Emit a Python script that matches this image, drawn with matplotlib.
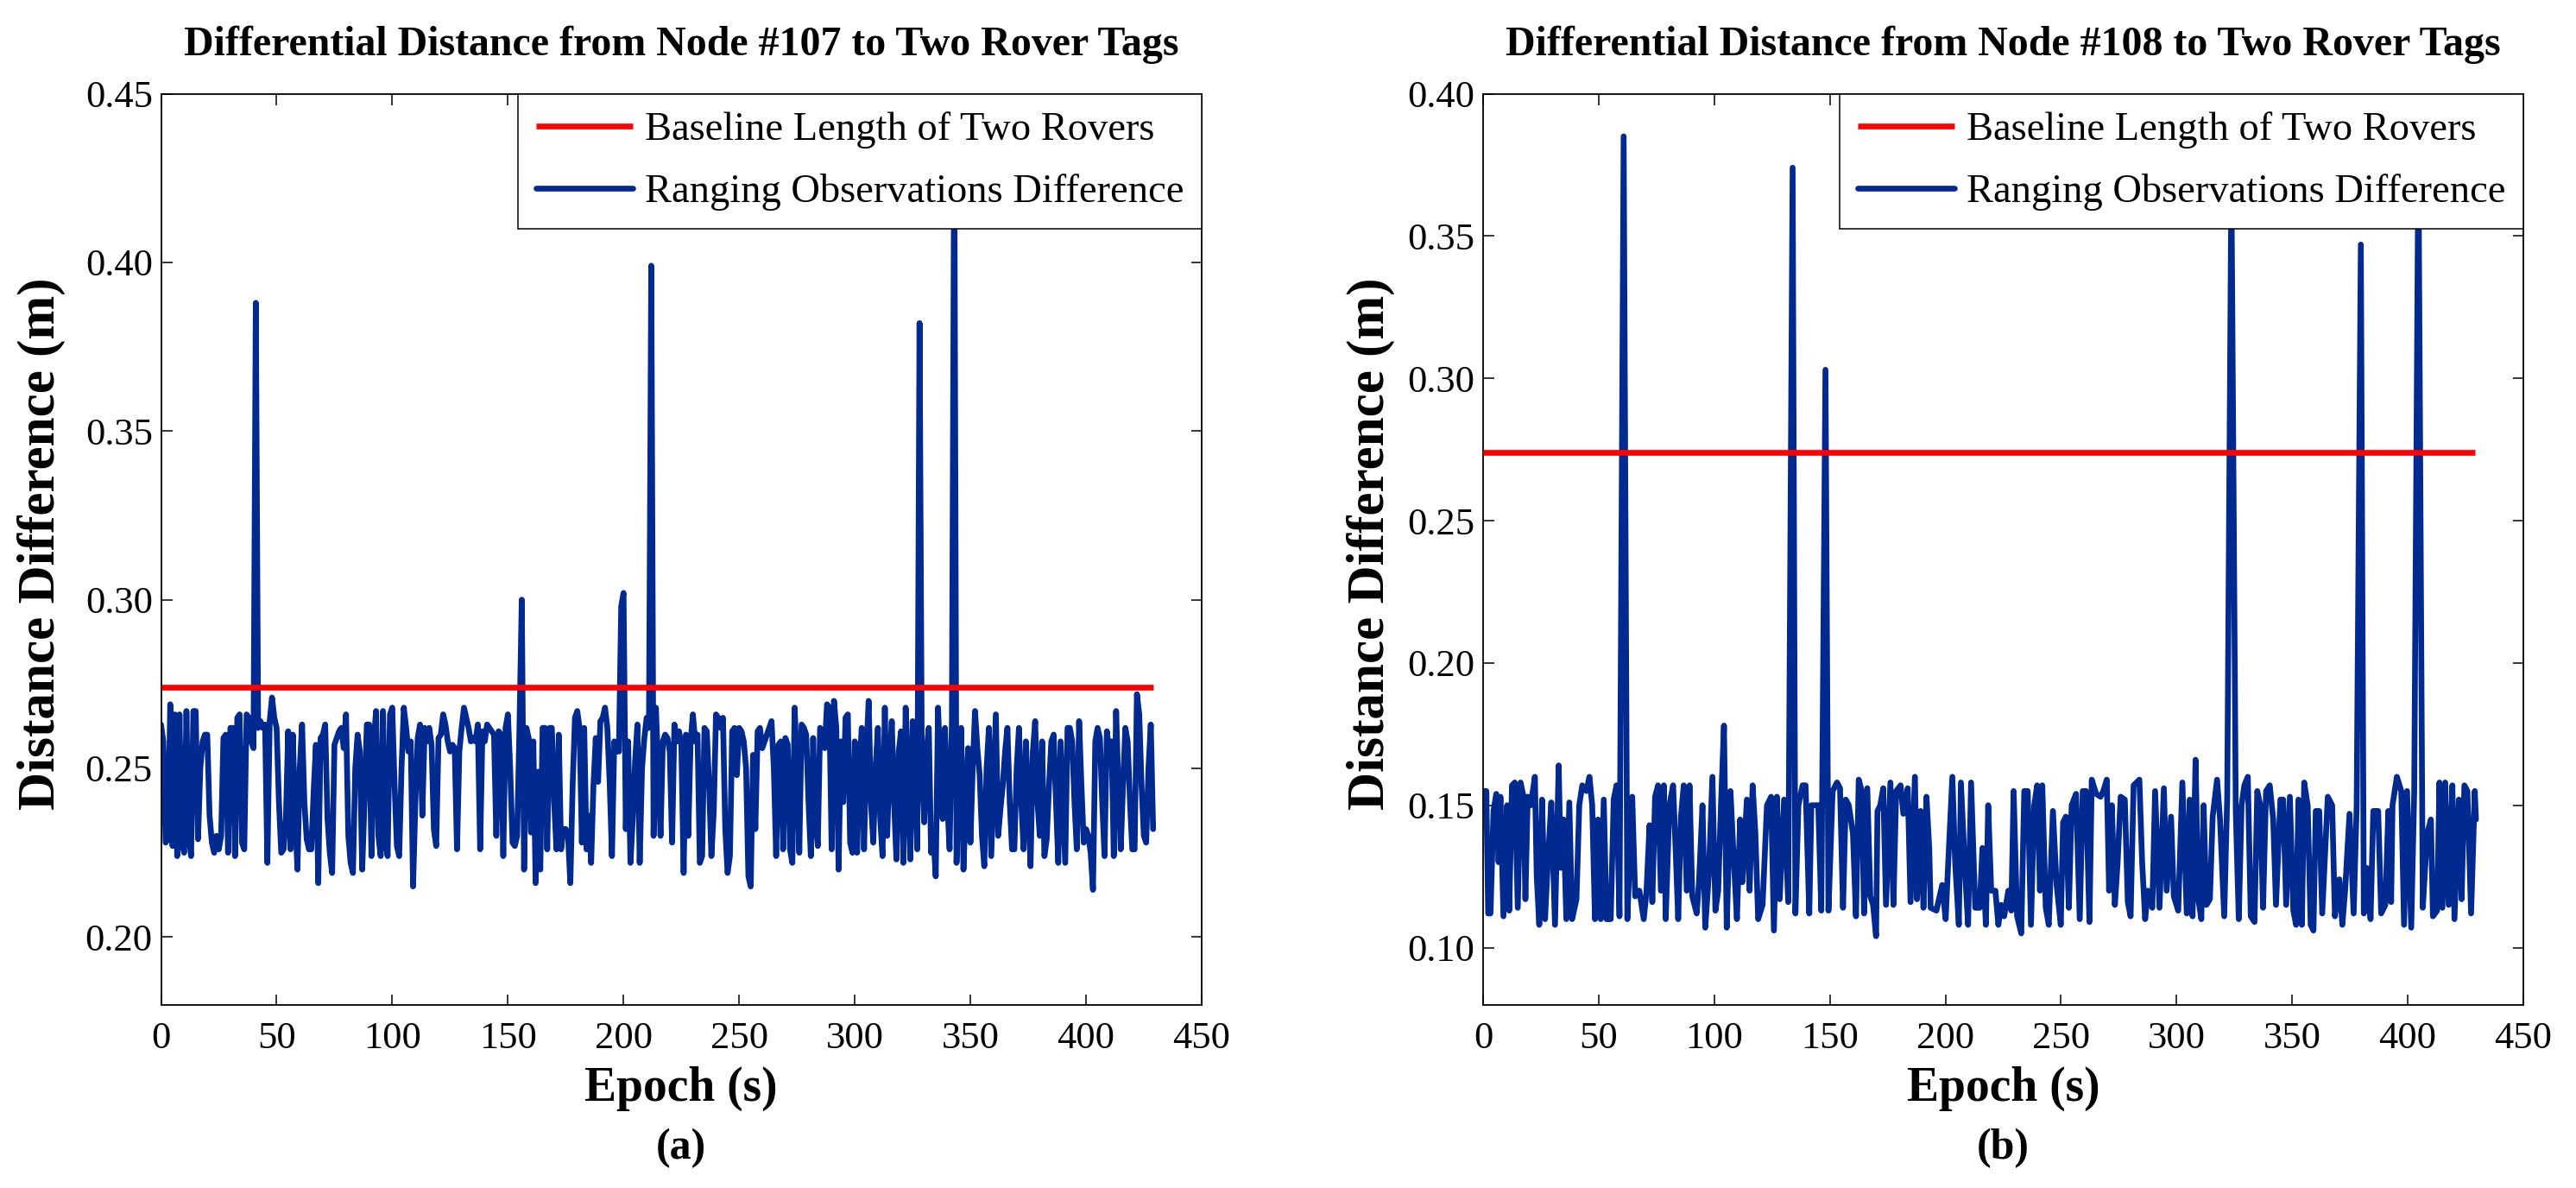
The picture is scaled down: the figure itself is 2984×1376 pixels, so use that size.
import numpy as np
import matplotlib
matplotlib.use("Agg")
import matplotlib.pyplot as plt

# ---------------- data ----------------
# Node #107: difference of ranging observations, one value per epoch (mm)
epochs_107 = list(range(0, 430))
diff_107_mm = [
    263,258,228,229,269,227,266,224,266,228,
    225,267,230,224,267,267,229,250,258,260,
    260,236,228,225,230,226,230,259,260,225,
    262,262,224,265,266,228,226,266,265,258,
    256,388,262,264,262,263,222,264,271,265,
    262,240,225,226,235,261,226,260,236,220,
    250,263,240,229,226,226,243,257,216,259,
    260,263,235,225,219,257,259,261,262,256,
    266,230,222,219,250,260,255,220,240,263,
    263,224,258,267,230,224,267,228,224,266,
    268,245,227,224,250,268,262,255,258,215,
    240,259,263,236,262,258,262,257,232,227,
    259,260,266,263,258,255,257,256,226,255,
    262,268,265,262,258,259,258,263,226,261,
    258,263,262,261,260,230,261,260,224,262,
    266,250,228,227,230,262,300,220,262,259,
    231,258,216,249,220,262,262,226,262,262,
    240,226,260,226,232,232,230,216,245,265,
    267,262,228,262,226,236,222,245,259,246,
    264,265,268,262,246,224,258,255,255,298,
    302,232,258,222,235,252,263,222,250,259,
    265,262,399,230,268,250,230,258,260,259,
    255,228,263,258,261,257,219,260,230,258,
    266,258,260,222,224,262,261,245,224,237,
    266,265,262,265,232,219,224,261,262,248,
    262,261,258,250,218,215,254,232,261,262,
    256,258,260,262,264,250,224,257,258,226,
    259,257,226,222,268,250,225,263,262,260,
    240,224,259,235,227,262,260,256,269,268,
    226,270,262,220,258,240,265,266,228,225,
    258,225,250,262,226,255,270,240,228,250,
    262,235,224,268,230,250,264,240,223,255,
    261,222,268,245,223,264,250,226,382,250,
    234,255,262,225,230,218,268,250,235,262,
    240,226,264,440,222,245,262,220,240,256,
    228,250,267,256,248,230,221,250,262,224,
    245,266,230,238,245,255,262,240,226,226,
    250,262,240,226,258,240,221,255,264,240,
    230,258,224,229,245,258,260,240,222,258,
    240,222,262,262,258,240,226,264,245,228,
    232,230,225,214,258,262,259,240,224,261,
    255,258,224,267,245,226,245,262,258,240,
    226,226,272,266,245,230,228,250,263,232,
]

# Node #108: epochs (s) and differences (mm)
epochs_108 = [
    0,1.4,2.2,3.2,4.5,5.7,6.7,7.5,8.8,10.4,11.3,12.5,13.7,15,16.2,17.5,18.3,19.3,20.6,22.4,
    23.2,24.3,25.5,26.8,28,29.5,31.1,32.7,33.6,34.8,36,37.3,38.5,40.4,41.6,42.9,44.7,46,47.2,48.4,
    49.7,50.9,52.2,53.4,55.2,56.5,57.7,59,60.8,62.4,64.5,65.8,67.6,69.5,70.7,72,73.2,74.4,75.7,76.9,
    78.2,79,80.6,82.2,83.5,84.4,85.6,86.8,88.1,89.3,90.5,92.4,93.4,94.9,96.1,97.6,99.2,100.5,101.7,102.9,
    104.2,105.4,107,108.5,109.8,111.2,112.2,114.1,115.3,116.6,117.8,119,120.9,122.8,124.6,125.8,127.1,128.3,130.2,132,
    133.9,135.1,136.4,138.2,139.5,141.1,142,143.2,145,146.3,148.1,149.4,151.2,153.1,
    154.4,155.7,156.9,158.2,160,161.3,162.5,163.8,164.8,166.2,167.5,168.7,170,170.6,171.8,173.1,174.3,176.2,177.5,178.7,
    180.6,181.8,183.7,184.9,186.8,187.7,189.3,190.5,191.8,193,193.6,196.1,198.6,200.1,201.1,203,204.2,205.8,206.7,208.6,
    209.8,211.1,212.9,214.8,216,217.5,218.5,219.8,221.6,222.9,224.1,225.4,227.2,228.5,229.5,231,232.8,234.1,235.6,237,
    238.4,239.7,240.9,241.9,243.4,244.7,246.5,248.1,249.9,250.9,252.1,253.4,254.6,256.5,258.1,259.4,260.8,262.3,263.3,265.2,
    267.1,268.3,269.8,270.8,272,273.3,274.5,275.8,277.6,278.9,280.1,281.4,283.9,285.1,286.4,287.6,289.5,290.7,292.6,294.5,
    295.7,297.6,298.8,300.7,302.5,
    304.4,305.7,306.9,308.2,309.4,310.7,311.7,312.9,314.4,315.6,317.5,318.8,320.6,321.9,323.7,325.6,326.9,328.1,329.3,330.8,
    332.1,333.7,334.9,336.2,337.4,338.7,340.3,341.8,343,344.9,346.1,347.4,349,350.5,351.7,352.7,354.2,355.2,356.7,358,
    359.2,360.2,361.7,363,365.4,367.3,368.5,370.4,371.7,372.9,374.8,376.6,377.9,379.7,381,382.2,383.9,385.1,387.2,388.5,
    390.3,391.6,392.8,393.4,395.3,397.2,398.4,399.7,401.5,402.8,404.6,406.5,408.4,410,410.9,412.7,413.7,415,416.2,417.7,
    419.3,420.2,422.1,423.3,424.5,425.8,427.4,429,429.5,
]
diff_108_mm = [
    155,155,112,112,148,154,130,153,111,150,113,157,158,114,158,153,117,153,150,160,
    125,108,152,110,130,151,108,164,128,145,110,151,110,117,150,157,155,160,150,110,
    145,110,152,110,110,152,157,111,385,110,153,118,120,110,120,143,116,153,157,120,
    157,110,150,157,130,110,146,157,120,157,118,112,123,150,107,125,160,113,120,150,
    178,107,155,130,110,145,123,152,120,157,140,110,115,150,153,106,153,117,152,116,
    374,112,150,157,157,112,150,150,150,113,303,113,155,158,
    156,114,152,150,140,111,159,155,112,156,118,115,104,148,150,156,115,158,115,155,
    157,147,156,116,160,117,148,114,153,135,114,113,122,110,128,160,130,108,158,125,
    108,158,114,114,135,108,150,120,120,108,115,111,120,113,155,111,105,155,155,108,
    150,157,120,157,114,108,148,122,108,144,146,114,150,154,110,155,155,109,159,154,
    153,155,159,120,150,115,130,153,152,116,111,157,159,130,110,120,114,155,114,156,
    120,146,118,113,158,
    112,152,111,166,117,110,150,115,117,146,159,145,111,153,370,148,110,150,157,160,
    111,109,155,150,114,155,157,145,115,152,152,115,153,113,108,152,108,158,150,108,
    106,148,148,112,153,150,111,124,108,120,147,112,150,347,112,128,110,148,148,112,
    115,148,116,150,160,155,108,155,107,155,380,114,140,145,111,113,158,114,158,115,
    157,110,152,117,157,155,112,155,145,
]

baseline_m = 0.274
baseline_span = [0, 429]

titles = ["Differential Distance from Node #107 to Two Rover Tags",
          "Differential Distance from Node #108 to Two Rover Tags"]
panel_tags = ["(a)", "(b)"]
legend_labels = ["Baseline Length of Two Rovers", "Ranging Observations Difference"]
x_ticks = [0, 50, 100, 150, 200, 250, 300, 350, 400, 450]
y_ticks_107 = [0.20, 0.25, 0.30, 0.35, 0.40, 0.45]
y_ticks_108 = [0.10, 0.15, 0.20, 0.25, 0.30, 0.35, 0.40]
ylims = [(0.18, 0.45), (0.08, 0.40)]

# ---------------- style ----------------
W, H = 2984, 1376
fig = plt.figure(figsize=(W / 100, H / 100), dpi=100)
serif = ["Liberation Serif", "DejaVu Serif"]
plt.rcParams["font.family"] = serif

BLUE = "#002a90"
RED = "#ff0000"

ax_boxes = [
    (186.5, 108.5, 1392, 1163.5),
    (1718, 108.5, 2923, 1163.5),
]
ylabel_x = [48, 1588]

series = [
    (epochs_107, diff_107_mm, y_ticks_107),
    (epochs_108, diff_108_mm, y_ticks_108),
]

for i, (x0, y0, x1, y1) in enumerate(ax_boxes):
    ax = fig.add_axes([x0 / W, 1 - y1 / H, (x1 - x0) / W, (y1 - y0) / H])
    ex, vals, yt = series[i]
    yv = np.array(vals, dtype=float) / 1000.0
    ax.plot(baseline_span, [baseline_m, baseline_m], color=RED, lw=4.8,
            solid_capstyle="butt", label=legend_labels[0], zorder=3)
    ax.plot(ex, yv, color=BLUE, lw=4.8, solid_joinstyle="round",
            solid_capstyle="round", label=legend_labels[1], zorder=2)
    ax.set_xlim(0, 450)
    ax.set_ylim(*ylims[i])
    ax.set_xticks(x_ticks)
    ax.set_xticklabels([str(v) for v in x_ticks])
    ax.set_yticks(yt)
    ax.set_yticklabels([f"{v:.2f}" for v in yt])
    ax.tick_params(direction="in", length=9, width=1.1, top=True, right=True,
                   labelsize=32)
    ax.tick_params(axis="x", pad=14)
    ax.tick_params(axis="y", pad=7)
    for sp in ax.spines.values():
        sp.set_linewidth(1.3)
    leg = ax.legend(loc="upper right", borderaxespad=0, fontsize=33.5,
                    fancybox=False, framealpha=1, edgecolor="black",
                    handlelength=2.4, handletextpad=0.29, labelspacing=0.62,
                    borderpad=0.45)
    leg.get_frame().set_linewidth(1.1)
    leg.set_zorder(5)
    ax.text(0.5, 1.0536, titles[i], transform=ax.transAxes, ha="center",
            va="center", fontsize=34.5, fontweight="bold")
    cx = (x0 + x1) / 2 / W
    fig.text(cx, 1 - 1261 / H, "Epoch (s)", ha="center", va="center",
             fontsize=40, fontweight="bold")
    fig.text(cx, 1 - 1330 / H, panel_tags[i], ha="center", va="center",
             fontsize=36, fontweight="bold")
    fig.text(ylabel_x[i] / W, 1 - 630 / H, "Distance Difference (m)",
             rotation=90, ha="center", va="center", fontsize=44,
             fontweight="bold")

fig.savefig("out.png", dpi=100)
